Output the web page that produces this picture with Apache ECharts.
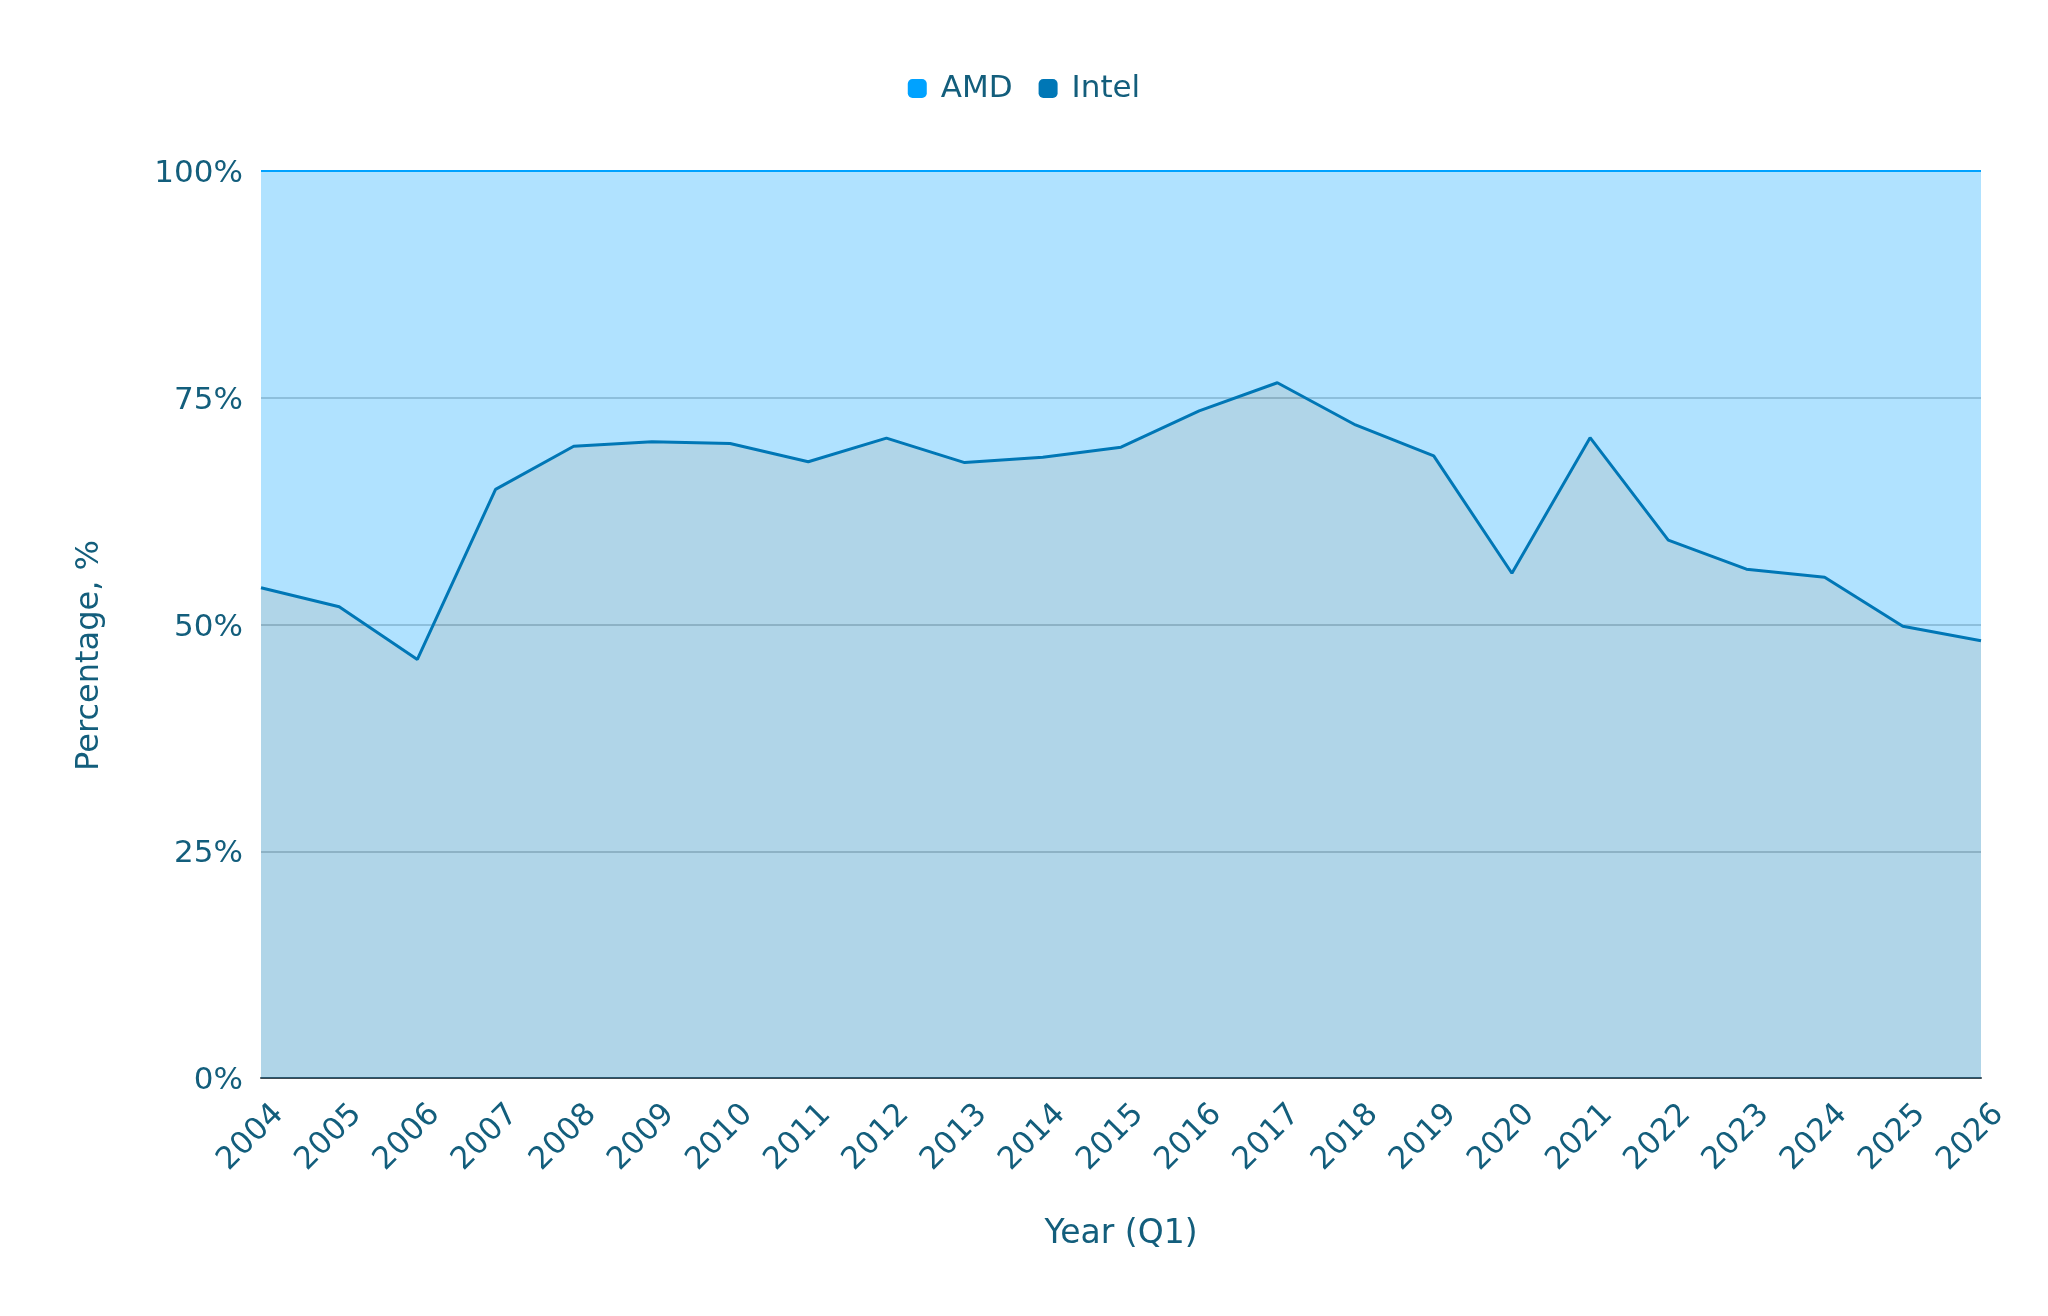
<!DOCTYPE html>
<html>
<head>
<meta charset="utf-8">
<script src="https://cdn.jsdelivr.net/npm/echarts@6/dist/echarts.min.js"></script>
<style>
  html, body { margin: 0; padding: 0; background: #ffffff; }
  #chart { width: 2048px; height: 1316px; }
</style>
</head>
<body>
<div id="chart"></div>
<script>
const years = ['2004','2005','2006','2007','2008','2009','2010','2011','2012','2013','2014','2015','2016','2017','2018','2019','2020','2021','2022','2023','2024','2025','2026'];
const intelShare = [54.05, 51.95, 46.15, 64.9, 69.65, 70.15, 69.95, 67.95, 70.55, 67.85, 68.45, 69.55, 73.55, 76.65, 72.0, 68.6, 55.65, 70.6, 59.3, 56.1, 55.2, 49.8, 48.2];
const amdShare = [45.95, 48.05, 53.85, 35.1, 30.35, 29.85, 30.05, 32.05, 29.45, 32.15, 31.55, 30.45, 26.45, 23.35, 28.0, 31.4, 44.35, 29.4, 40.7, 43.9, 44.8, 50.2, 51.8];
const yTicks = [0, 25, 50, 75, 100];

const textColor = '#135e7c';
const font = '"DejaVu Sans", Verdana, sans-serif';

const chart = echarts.init(document.getElementById('chart'), null, { renderer: 'canvas' });
chart.setOption({
  backgroundColor: '#ffffff',
  animation: false,
  legend: {
    data: ['AMD', 'Intel'],
    top: 68,
    left: 'center',
    icon: 'roundRect',
    itemWidth: 19,
    itemHeight: 19,
    itemGap: 26,
    textStyle: { color: textColor, fontSize: 31, fontFamily: font, padding: [0, 0, 0, 9] }
  },
  grid: { left: 261, right: 67, top: 171, bottom: 238, containLabel: false },
  xAxis: {
    type: 'category',
    data: years,
    boundaryGap: false,
    name: 'Year (Q1)',
    nameLocation: 'middle',
    nameGap: 140,
    nameTextStyle: { color: textColor, fontSize: 33, fontFamily: font },
    axisLine: { show: true, lineStyle: { color: '#3d4a52', width: 2 } },
    axisTick: { show: false },
    axisLabel: {
      rotate: 45,
      interval: 0,
      margin: 14,
      align: 'right',
      verticalAlign: 'top',
      lineHeight: 50,
      color: textColor,
      fontSize: 31,
      fontFamily: font
    },
    splitLine: { show: false }
  },
  yAxis: {
    type: 'value',
    min: yTicks[0],
    max: yTicks[yTicks.length - 1],
    interval: 25,
    name: 'Percentage, %',
    nameLocation: 'middle',
    nameRotate: 90,
    nameGap: 155,
    nameTextStyle: { color: textColor, fontSize: 32, fontFamily: font, padding: [0, 62, 0, 0] },
    axisLine: { show: false },
    axisTick: { show: false },
    axisLabel: {
      margin: 18,
      color: textColor,
      fontSize: 31,
      fontFamily: font,
      formatter: function (v) { return '{p|' + v + '%}'; },
      rich: {
        p: { color: textColor, fontSize: 31, fontFamily: font, padding: [6, 0, 0, 0] }
      }
    },
    splitLine: { show: true, lineStyle: { color: '#cccccc', width: 2 } }
  },
  series: [
    {
      name: 'Intel',
      type: 'line',
      stack: 'share',
      data: intelShare,
      symbol: 'none',
      color: '#0077b6',
      lineStyle: { color: '#0077b6', width: 3 },
      areaStyle: { color: '#0077b6', opacity: 0.31 },
      z: 3
    },
    {
      name: 'AMD',
      type: 'line',
      stack: 'share',
      data: amdShare,
      symbol: 'none',
      color: '#00a2ff',
      lineStyle: { color: '#00a2ff', width: 2 },
      areaStyle: { color: '#00a2ff', opacity: 0.31 },
      z: 2
    }
  ]
});
</script>
</body>
</html>
